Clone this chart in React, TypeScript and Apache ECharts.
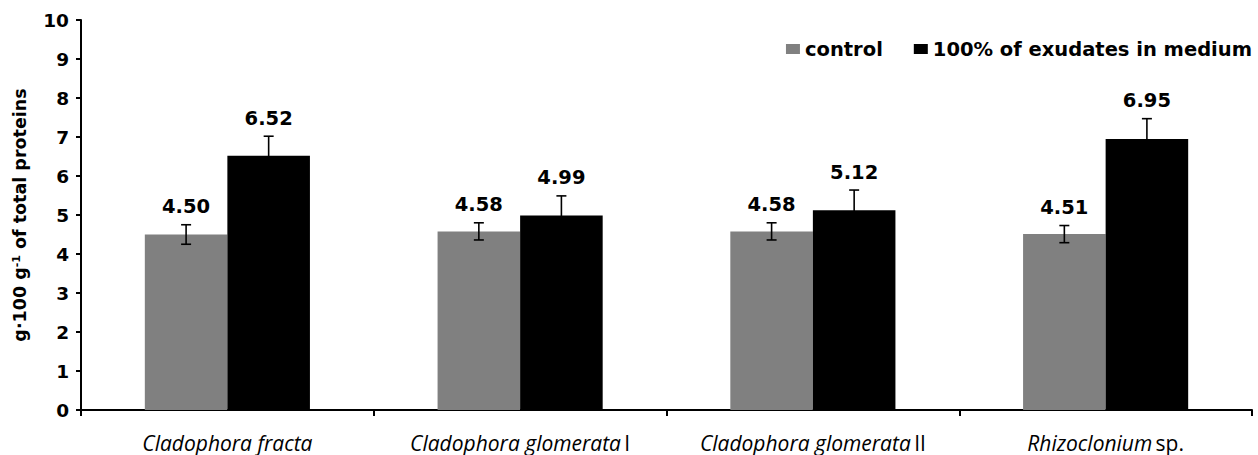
import React, { useEffect, useRef } from "react";
import * as echarts from "echarts";

const speciesNames = ["Cladophora fracta", "Cladophora glomerata", "Cladophora glomerata", "Rhizoclonium"];
const speciesSuffix = ["", "I", "II", "sp."];
const categories = ["Cladophora fracta", "Cladophora glomerata I", "Cladophora glomerata II", "Rhizoclonium sp."];
const controlValues = [4.5, 4.58, 4.58, 4.51];
const exudateValues = [6.52, 4.99, 5.12, 6.95];
const controlErr = [0.25, 0.22, 0.22, 0.22];
const exudateErr = [0.5, 0.5, 0.52, 0.52];
const yTicks = [0, 1, 2, 3, 4, 5, 6, 7, 8, 9, 10];

const GAP = 0.436;
const BOLD = "DejaVu Sans";

function makeErrRender(side: number) {
  return (params: any, api: any) => {
    const idx = api.value(0);
    const val = api.value(1);
    const err = api.value(2);
    const c = api.coord([idx, val]);
    const band = api.size([1, 0])[0];
    const x = c[0] + (side * band * (1 - GAP)) / 4;
    const top = api.coord([idx, val + err])[1];
    const bot = api.coord([idx, val - err])[1];
    const ls = { stroke: "#000", lineWidth: 1.6 };
    return {
      type: "group",
      children: [
        { type: "line", shape: { x1: x, y1: top, x2: x, y2: bot }, style: ls },
        { type: "line", shape: { x1: x - 5, y1: top, x2: x + 5, y2: top }, style: ls },
        { type: "line", shape: { x1: x - 5, y1: bot, x2: x + 5, y2: bot }, style: ls },
        {
          type: "text",
          x: x,
          y: top - 8,
          style: {
            text: val.toFixed(2),
            font: `bold 19.5px "${BOLD}"`,
            fill: "#000",
            align: "center",
            verticalAlign: "bottom",
          },
        },
      ],
    };
  };
}

export default function App() {
  const ref = useRef<HTMLDivElement>(null);
  useEffect(() => {
    document.body.style.margin = "0";
    if (!ref.current) return;
    const chart = echarts.init(ref.current, undefined, { renderer: "svg" });
    chart.setOption({
      animation: false,
      backgroundColor: "#fff",
      grid: { left: 81, right: 6, top: 20, bottom: 45, containLabel: false },
      legend: {
        right: 1,
        top: 34,
        icon: "rect",
        itemWidth: 14,
        itemHeight: 10,
        itemGap: 31,
        textStyle: { fontFamily: BOLD, fontWeight: "bold", fontSize: 19.5, color: "#000" },
        data: ["control", "100% of exudates in medium"],
      },
      xAxis: {
        type: "category",
        data: categories,
        axisLine: { lineStyle: { color: "#000", width: 2 } },
        axisTick: { show: true, length: 6, lineStyle: { color: "#000", width: 2 } },
        axisLabel: {
          margin: 22,
          interval: 0,
          formatter: (v: string, i: number) =>
            speciesSuffix[i] ? `{i|${speciesNames[i]}} {n|${speciesSuffix[i]}}` : `{i|${speciesNames[i]}}`,
          rich: {
            i: { fontFamily: "Open Sans", fontStyle: "italic", fontSize: 21, color: "#000" },
            n: { fontFamily: "Open Sans", fontSize: 21, color: "#000" },
          },
        },
      },
      yAxis: {
        type: "value",
        min: 0,
        max: 10,
        interval: 1,
        name: "g·100 g{sup|-1} of total proteins",
        nameLocation: "middle",
        nameGap: 52,
        nameTextStyle: {
          fontFamily: BOLD,
          fontWeight: "bold",
          fontSize: 17.5,
          color: "#000",
          rich: {
            sup: { fontFamily: BOLD, fontWeight: "bold", fontSize: 11, color: "#000", verticalAlign: "top" },
          },
        },
        axisLine: { show: true, lineStyle: { color: "#000", width: 2 } },
        axisTick: { show: true, length: 5, lineStyle: { color: "#000", width: 2 } },
        splitLine: { show: false },
        axisLabel: {
          margin: 12,
          fontFamily: BOLD,
          fontWeight: "bold",
          fontSize: 18.5,
          color: "#000",
          formatter: (v: number) => (yTicks.includes(v) ? String(v) : ""),
        },
      },
      series: [
        {
          name: "control",
          type: "bar",
          data: controlValues,
          barGap: "0%",
          barCategoryGap: GAP * 100 + "%",
          itemStyle: { color: "#808080" },
        },
        {
          name: "100% of exudates in medium",
          type: "bar",
          data: exudateValues,
          barGap: "0%",
          barCategoryGap: GAP * 100 + "%",
          itemStyle: { color: "#000000" },
        },
        {
          type: "custom",
          renderItem: makeErrRender(-1),
          data: controlValues.map((v, i) => [i, v, controlErr[i]]),
          encode: { x: 0, y: 1 },
          z: 5,
          silent: true,
        },
        {
          type: "custom",
          renderItem: makeErrRender(1),
          data: exudateValues.map((v, i) => [i, v, exudateErr[i]]),
          encode: { x: 0, y: 1 },
          z: 5,
          silent: true,
        },
      ],
    });
    return () => chart.dispose();
  }, []);
  return <div ref={ref} style={{ width: 1258, height: 455 }} />;
}
